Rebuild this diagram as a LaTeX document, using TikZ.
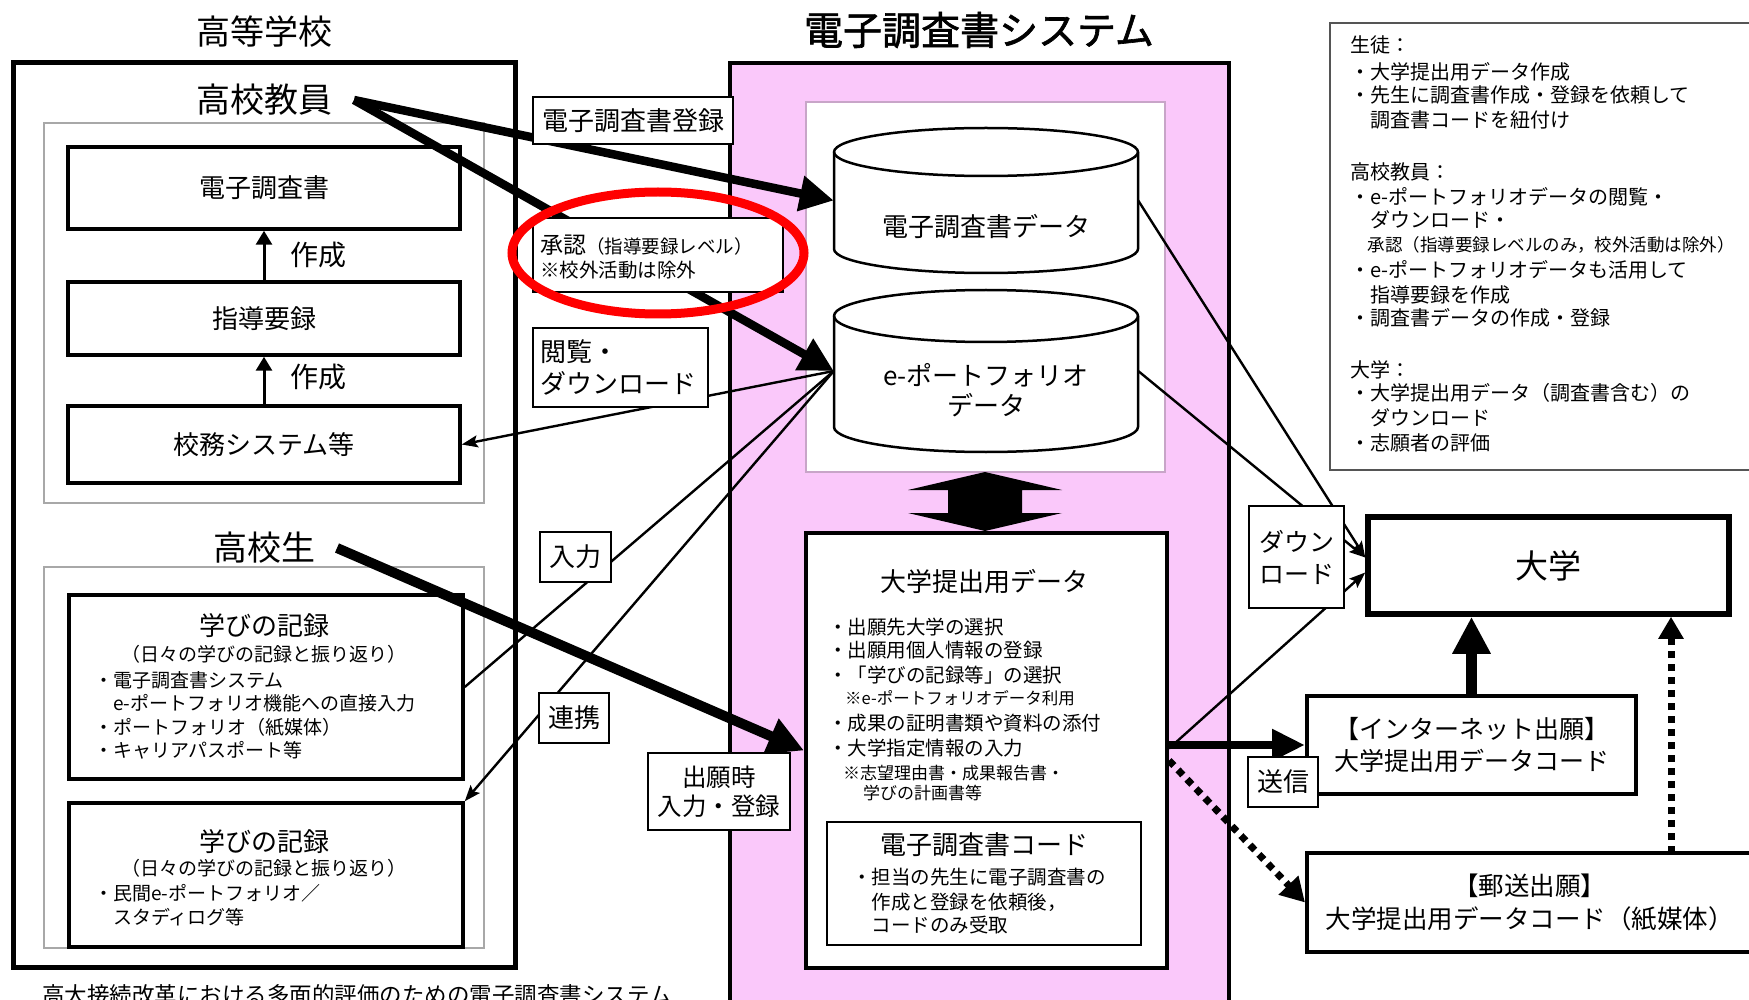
\documentclass[tikz,border=0pt]{standalone}
\usepackage{fontspec}
\setmainfont{Noto Sans CJK JP}
\usetikzlibrary{arrows.meta,calc}
\definecolor{pinkbg}{RGB}{250,200,250}
\definecolor{innerbd}{RGB}{200,165,200}
\definecolor{grayln}{RGB}{168,168,168}
\definecolor{legbd}{RGB}{85,85,85}
\newcommand\fsz[2]{\fontsize{#1}{#2}\selectfont}
\begin{document}
\begin{tikzpicture}[x=1pt,y=-1pt,
  box/.style={draw, line width=3.5pt, fill=white, inner sep=0pt},
  lab/.style={draw, line width=1.8pt, fill=white, inner sep=0pt},
  txt/.style={inner sep=0pt},
  lt/.style={inner sep=0pt, anchor=west},
  bigarrow/.style={line width=8.5pt, -{Triangle[length=34pt,width=34pt]}},
  thinarrow/.style={line width=2.4pt, -{Stealth[length=16pt,width=12pt,inset=3pt]}},
  thinline/.style={line width=2.4pt},
  smallarrow/.style={line width=3pt, -{Triangle[length=14pt,width=16pt]}},
  dotarrow/.style={line width=7pt, dash pattern=on 7pt off 6pt, -{Triangle[length=24pt,width=26pt]}},
]
\useasboundingbox (0,0) rectangle (1749,1000);
\fill[white] (0,0) rectangle (1749,1000);

% ---------------- left: 高等学校 ----------------
\node[txt, font=\fsz{34}{34}] (ttl1) at (264,32) {高等学校};
\draw[line width=5pt] (13,63) rectangle (515,967);
\node[txt, font=\fsz{34}{34}] (teacher) at (264,100) {高校教員};
\draw[grayln, line width=2.5pt] (44,123) rectangle (484,503);
\node[box, minimum width=392pt, minimum height=82pt, font=\fsz{26}{26}] (chosa) at (264,188) {電子調査書};
\node[box, minimum width=392pt, minimum height=73pt, font=\fsz{26}{26}] (shido) at (264,318.5) {指導要録};
\node[box, minimum width=392pt, minimum height=77pt, font=\fsz{26}{26}] (koumu) at (264,444.5) {校務システム等};
\draw[smallarrow] (shido.north) -- (chosa.south);
\draw[smallarrow] (koumu.north) -- (shido.south);
\node[txt, font=\fsz{28}{28}] (mk1) at (318,255) {作成};
\node[txt, font=\fsz{28}{28}] (mk2) at (318,377) {作成};

\node[txt, font=\fsz{34}{34}] (student) at (264,548) {高校生};
\draw[grayln, line width=2.5pt] (44,567) rectangle (484,948);
\node[box, minimum width=394pt, minimum height=184pt] (man1) at (266,687) {};
\node[txt, font=\fsz{26}{26}] (m1t) at (264,626) {学びの記録};
\node[txt, font=\fsz{19}{19}] (m1s) at (264,654) {（日々の学びの記録と振り返り）};
\node[lt, font=\fsz{19}{19}] (m1a) at (94,680) {・電子調査書システム};
\node[lt, font=\fsz{19}{19}] (m1b) at (94,703) {　e-ポートフォリオ機能への直接入力};
\node[lt, font=\fsz{19}{19}] (m1c) at (94,727) {・ポートフォリオ（紙媒体）};
\node[lt, font=\fsz{19}{19}] (m1d) at (94,750) {・キャリアパスポート等};
\node[box, minimum width=394pt, minimum height=144pt] (man2) at (266,875) {};
\node[txt, font=\fsz{26}{26}] (m2t) at (264,842) {学びの記録};
\node[txt, font=\fsz{19}{19}] (m2s) at (264,868) {（日々の学びの記録と振り返り）};
\node[lt, font=\fsz{19}{19}] (m2a) at (94,893) {・民間e-ポートフォリオ／};
\node[lt, font=\fsz{19}{19}] (m2b) at (94,917) {　スタディログ等};

\node[lt, font=\fsz{22.5}{22.5}] (caption) at (42,995) {高大接続改革における多面的評価のための電子調査書システム};

% ---------------- middle: 電子調査書システム ----------------
\node[txt, font=\fsz{39}{39}\addfontfeature{FakeBold=1.6}] (ttl2) at (979,30) {電子調査書システム};
\draw[line width=4pt, fill=pinkbg] (730,63) rectangle (1229,1004);
\draw[innerbd, line width=2.5pt, fill=white] (806,102) rectangle (1165,472);

% cylinders
\node[minimum width=304pt, minimum height=145pt, inner sep=0pt] (cyl1) at (986,200.5) {};
\filldraw[fill=white, line width=2.5pt] (834,152) -- (834,249)
  arc[start angle=180, end angle=360, x radius=152pt, y radius=24pt] -- (1138,152)
  arc[start angle=0, end angle=180, x radius=152pt, y radius=24pt] -- cycle;
\draw[line width=2.5pt] (834,152) arc[start angle=180, end angle=360, x radius=152pt, y radius=24pt];
\node[txt, font=\fsz{26}{26}] (cy1t) at (986,227) {電子調査書データ};

\node[minimum width=304pt, minimum height=162pt, inner sep=0pt] (cyl2) at (986,371) {};
\filldraw[fill=white, line width=2.5pt] (834,316) -- (834,427)
  arc[start angle=180, end angle=360, x radius=152pt, y radius=25pt] -- (1138,316)
  arc[start angle=0, end angle=180, x radius=152pt, y radius=26pt] -- cycle;
\draw[line width=2.5pt] (834,316) arc[start angle=180, end angle=360, x radius=152pt, y radius=26pt];
\node[txt, font=\fsz{26}{26}] (cy2a) at (986,375) {e-ポートフォリオ};
\node[txt, font=\fsz{26}{26}] (cy2b) at (986,405) {データ};

% double arrow
\fill (985,472) -- (1062,490) -- (1022,490) -- (1022,513) -- (1062,513) -- (985,531)
  -- (908,513) -- (948,513) -- (948,490) -- (908,490) -- cycle;

% 大学提出用データ
\node[box, line width=4pt, minimum width=361pt, minimum height=435pt] (data) at (986.5,750.5) {};
\node[txt, font=\fsz{26}{26}] (dt) at (984,582) {大学提出用データ};
\node[lt, font=\fsz{19.5}{19.5}] (d1) at (828,627) {・出願先大学の選択};
\node[lt, font=\fsz{19.5}{19.5}] (d2) at (828,650) {・出願用個人情報の登録};
\node[lt, font=\fsz{19.5}{19.5}] (d3) at (828,675) {・「学びの記録等」の選択};
\node[lt, font=\fsz{16.5}{16.5}] (d4) at (845,698) {※e-ポートフォリオデータ利用};
\node[lt, font=\fsz{19.5}{19.5}] (d5) at (828,723) {・成果の証明書類や資料の添付};
\node[lt, font=\fsz{19.5}{19.5}] (d6) at (828,748) {・大学指定情報の入力};
\node[lt, font=\fsz{17}{17}] (d7) at (843,773) {※志望理由書・成果報告書・};
\node[lt, font=\fsz{17}{17}] (d8) at (863,793) {学びの計画書等};
\node[box, line width=2.5pt, minimum width=314pt, minimum height=123pt] (code) at (984,883.5) {};
\node[txt, font=\fsz{26}{26}] (c0) at (984,845) {電子調査書コード};
\node[lt, font=\fsz{19.5}{19.5}] (c1) at (852,877) {・担当の先生に電子調査書の};
\node[lt, font=\fsz{19.5}{19.5}] (c2) at (852,902) {　作成と登録を依頼後，};
\node[lt, font=\fsz{19.5}{19.5}] (c3) at (852,925) {　コードのみ受取};

% ---------------- right ----------------
\draw[legbd, line width=2pt, fill=white] (1330,23) rectangle (1753,470);
\node[lt, font=\fsz{20}{20}] (g1) at (1350,45) {生徒：};
\node[lt, font=\fsz{20}{20}] (g2) at (1350,72) {・大学提出用データ作成};
\node[lt, font=\fsz{20}{20}] (g3) at (1350,95) {・先生に調査書作成・登録を依頼して};
\node[lt, font=\fsz{20}{20}] (g4) at (1350,120) {　調査書コードを紐付け};
\node[lt, font=\fsz{20}{20}] (g5) at (1350,172) {高校教員：};
\node[lt, font=\fsz{20}{20}] (g6) at (1350,197) {・e-ポートフォリオデータの閲覧・};
\node[lt, font=\fsz{20}{20}] (g7) at (1350,220) {　ダウンロード・};
\node[lt, font=\fsz{17.5}{17.5}] (g8) at (1350,245) {　承認（指導要録レベルのみ，校外活動は除外）};
\node[lt, font=\fsz{20}{20}] (g9) at (1350,270) {・e-ポートフォリオデータも活用して};
\node[lt, font=\fsz{20}{20}] (g10) at (1350,295) {　指導要録を作成};
\node[lt, font=\fsz{20}{20}] (g11) at (1350,318) {・調査書データの作成・登録};
\node[lt, font=\fsz{20}{20}] (g12) at (1350,370) {大学：};
\node[lt, font=\fsz{20}{20}] (g13) at (1350,393) {・大学提出用データ（調査書含む）の};
\node[lt, font=\fsz{20}{20}] (g14) at (1350,418) {　ダウンロード};
\node[lt, font=\fsz{20}{20}] (g15) at (1350,443) {・志願者の評価};

\node[box, line width=5.5pt, minimum width=361pt, minimum height=97pt, font=\fsz{33}{33}] (univ) at (1548.5,565.5) {大学};
\node[box, line width=4pt, minimum width=329pt, minimum height=98pt, font=\fsz{25}{32}, align=center] (inet) at (1471.5,745) {【インターネット出願】\\大学提出用データコード};
\node[box, line width=4pt, minimum width=445pt, minimum height=99pt, font=\fsz{25.5}{33}, align=center] (mail) at (1529.5,902.5) {【郵送出願】\\大学提出用データコード（紙媒体）};

% ---------------- connectors ----------------
\coordinate (tA) at (354,100);
\coordinate (sA) at (337,548);
\draw[bigarrow] (tA) -- (cyl1.west);
\draw[bigarrow] (tA) -- (cyl2.west);
\draw[thinarrow] (cyl2.west) -- (koumu.east);
\draw[thinline] (man1.east) -- (cyl2.west);
\draw[thinarrow] (cyl2.west) -- (man2.north east);
\draw[bigarrow, line width=10pt, -{Triangle[length=36pt,width=36pt]}] (sA) -- (data.west);
\draw[thinarrow] (cyl1.east) -- ([yshift=8pt]univ.west);
\draw[thinarrow] (cyl2.east) -- ([yshift=8pt]univ.west);
\draw[thinarrow] ([yshift=2pt]data.east) -- ([yshift=-7pt]univ.west);
\draw[bigarrow, -{Triangle[length=33pt,width=30pt]}] (data.east |- inet.west) -- (inet.west);
\draw[dotarrow] ([yshift=-10pt]data.east) -- (mail.west);
\draw[bigarrow, line width=10.5pt, -{Triangle[length=37pt,width=36pt]}] (inet.north) -- (inet.north |- univ.south);
\coordinate (mT) at (1671,853);
\draw[dotarrow, -{Triangle[length=22pt,width=24pt]}] (mT) -- (mT |- univ.south);

% ---------------- label boxes ----------------
\node[lab, minimum width=200pt, minimum height=47pt, font=\fsz{26}{26}] (labreg) at (633,120.5) {電子調査書登録};
\node[lab, minimum width=250pt, minimum height=74pt] (labapp) at (658,255) {};
\node[lt] (ap1) at (540,245) {{\fsz{23}{23}承認}{\fsz{18.5}{18.5}（指導要録レベル）}};
\node[lt, font=\fsz{19.5}{19.5}] (ap2) at (540,270) {※校外活動は除外};
\node[lab, minimum width=175pt, minimum height=79pt] (labview) at (620.5,367.5) {};
\node[lt, font=\fsz{26}{26}] (v1) at (540,352) {閲覧・};
\node[lt, font=\fsz{26}{26}] (v2) at (540,383) {ダウンロード};
\node[lab, minimum width=71pt, minimum height=50pt, font=\fsz{26}{26}] (labin) at (575.5,557) {入力};
\node[lab, minimum width=70pt, minimum height=50pt, font=\fsz{26}{26}] (lablink) at (574,718) {連携};
\node[lab, minimum width=142pt, minimum height=77pt, font=\fsz{24.5}{29}, align=center] (labapply) at (719,791.5) {出願時\\入力・登録};
\node[lab, minimum width=95pt, minimum height=102pt, font=\fsz{25}{32}, align=center] (dl) at (1296.5,557) {ダウン\\ロード};
\node[lab, minimum width=70pt, minimum height=50pt, font=\fsz{26}{26}] (send) at (1283,782) {送信};

% red ellipse
\draw[red, line width=9pt] (658,253) ellipse [x radius=146pt, y radius=61pt];
\end{tikzpicture}
\end{document}
